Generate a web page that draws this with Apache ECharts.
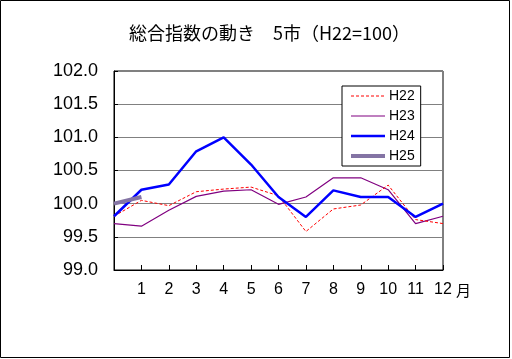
<!DOCTYPE html>
<html><head><meta charset="utf-8">
<script src="https://cdn.jsdelivr.net/npm/echarts@6/dist/echarts.min.js"></script>
<style>html,body{margin:0;padding:0;background:#fff}#c{width:512px;height:359px}</style>
</head><body><div id="c"></div>
<script>
var months = [0,1,2,3,4,5,6,7,8,9,10,11,12];
var yTicks = [99.0, 99.5, 100.0, 100.5, 101.0, 101.5, 102.0];
var H22 = [99.81, 100.05, 99.97, 100.18, 100.22, 100.25, 100.12, 99.58, 99.92, 99.98, 100.28, 99.76, 99.70];
var H23 = [99.70, 99.66, 99.90, 100.11, 100.19, 100.21, 99.99, 100.10, 100.39, 100.39, 100.21, 99.70, 99.81];
var H24 = [99.81, 100.21, 100.29, 100.79, 101.00, 100.59, 100.10, 99.80, 100.20, 100.10, 100.10, 99.80, 100.00];
var H25 = [100.00, 100.10];
function pairs(v){ return v.map(function(y,i){ return [months[i], y]; }); }
var numFont = 'Liberation Sans';
var chart = echarts.init(document.getElementById('c'));
chart.setOption({
  animation: false,
  backgroundColor: '#fff',
  title: {
    text: '総合指数の動き　5市（H22=100）',
    left: 124, top: 19,
    textStyle: {fontFamily: 'Noto Sans CJK JP', fontSize: 18, fontWeight: 'normal', color: '#000'}
  },
  legend: {
    orient: 'vertical', left: 342, top: 86,
    padding: [3, 6, 3, 7],
    itemWidth: 34, itemHeight: 14, itemGap: 6,
    borderColor: '#000', borderWidth: 1, backgroundColor: '#fff',
    itemStyle: {opacity: 0, borderWidth: 0},
    lineStyle: {width: 'inherit'},
    textStyle: {fontFamily: numFont, fontSize: 14, color: '#000', padding: [0,0,0,-1]},
    data: ['H22','H23','H24','H25']
  },
  grid: {left: 114, top: 71, right: 69, bottom: 89, show: true, borderColor: '#000', borderWidth: 1, backgroundColor: 'transparent'},
  xAxis: {
    type: 'value', min: 0, max: 12, interval: 1,
    axisLine: {lineStyle: {color: '#000', width: 1}},
    axisTick: {inside: true, length: 5, lineStyle: {color: '#000'}},
    splitLine: {show: false},
    axisLabel: {margin: 12, fontFamily: numFont, fontSize: 16, color: '#000',
      formatter: function(v){ return v === 0 ? '' : String(v); }}
  },
  yAxis: {
    type: 'value', min: yTicks[0], max: yTicks[yTicks.length-1], interval: 0.5,
    axisLine: {show: true, lineStyle: {color: '#000', width: 1}},
    axisTick: {show: true, inside: true, length: 4, lineStyle: {color: '#000'}},
    splitLine: {show: true, lineStyle: {color: '#808080', width: 1}},
    axisLabel: {margin: 16, fontFamily: numFont, fontSize: 18, color: '#000',
      formatter: function(v){ return v.toFixed(1); }}
  },
  graphic: [
    {type: 'rect', shape: {x: 0.5, y: 0.5, width: 509, height: 357}, style: {fill: 'none', stroke: '#000', lineWidth: 1}, z: 100},
    {type: 'text', x: 456, y: 283, style: {text: '月', font: '15px "Noto Sans CJK JP"', fill: '#000'}}
  ],
  series: [
    {name: 'H22', type: 'line', data: pairs(H22), symbol: 'none', lineStyle: {color: '#ff0000', width: 1, type: [3, 2]}, itemStyle: {color: '#ff0000'}, z: 3},
    {name: 'H23', type: 'line', data: pairs(H23), symbol: 'none', lineStyle: {color: '#800080', width: 1.2}, itemStyle: {color: '#800080'}, z: 2},
    {name: 'H24', type: 'line', data: pairs(H24), symbol: 'none', lineStyle: {color: '#0000ff', width: 2.5}, itemStyle: {color: '#0000ff'}, z: 4},
    {name: 'H25', type: 'line', data: pairs(H25), symbol: 'none', lineStyle: {color: '#8474a4', width: 4}, itemStyle: {color: '#8474a4'}, z: 5}
  ]
});
</script></body></html>
